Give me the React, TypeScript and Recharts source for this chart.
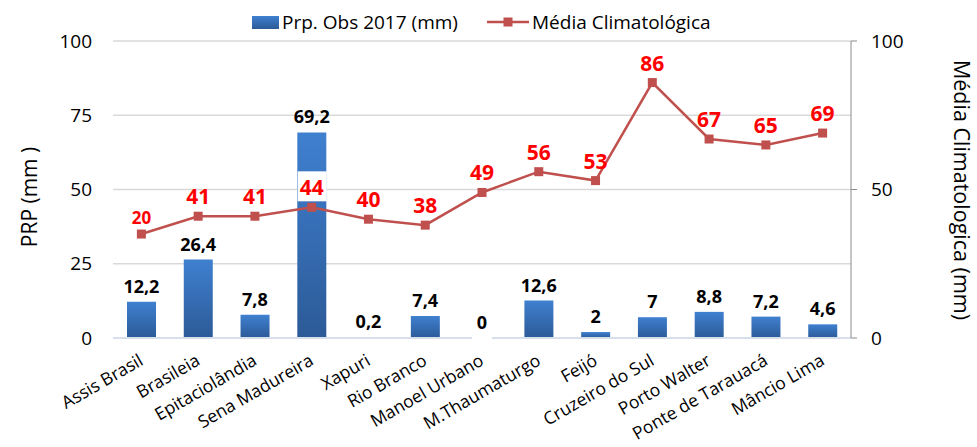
import React from 'react';
import { ComposedChart, Bar, Line, XAxis, YAxis, CartesianGrid, LabelList } from 'recharts';

const stations = [
  'Assis Brasil', 'Brasileia', 'Epitaciolândia', 'Sena Madureira', 'Xapuri', 'Rio Branco',
  'Manoel Urbano', 'M.Thaumaturgo', 'Feijó', 'Cruzeiro do Sul', 'Porto Walter',
  'Ponte de Tarauacá', 'Mâncio Lima',
];
const obs2017 = [12.2, 26.4, 7.8, 69.2, 0.2, 7.4, 0, 12.6, 2, 7, 8.8, 7.2, 4.6];
const climatology = [35, 41, 41, 44, 40, 38, 49, 56, 53, 86, 67, 65, 69];
const climLabels = ['20', '41', '41', '44', '40', '38', '49', '56', '53', '86', '67', '65', '69'];
const leftTicks = [0, 25, 50, 75, 100];
const rightTicks = [0, 50, 100];

const data = stations.map((name, i) => ({
  name,
  obs: obs2017[i],
  clim: climatology[i],
}));

const FONT = '"Open Sans", "Noto Sans", sans-serif';

const XTick = (props: any) => {
  const { x, y, payload } = props;
  const ax = x + 3;
  const ay = y + 26;
  return (
    <text x={ax} y={ay} transform={`rotate(-30 ${ax} ${ay})`} textAnchor="end" fontSize={17.5} fill="#000" fontFamily={FONT}>
      {payload.value}
    </text>
  );
};

const BarLabel = (props: any) => {
  const { x, y, index } = props;
  if (x == null || y == null) return null;
  const value = obs2017[index];
  const txt = String(value).replace('.', ',');
  return (
    <g>
      {value === 0 && <rect x={x - 10} y={y - 25} width={20} height={27} fill="#fff" />}
      <text x={x} y={y - 9} textAnchor="middle" fontSize={18} fontWeight="bold" fill="#000" fontFamily={FONT}>
        {txt}
      </text>
    </g>
  );
};

const LineLabel = (props: any) => {
  const { x, y, index } = props;
  const txt = climLabels[index];
  const small = index === 0;
  return (
    <g>
      {index === 3 && <rect x={x - 14} y={y - 36} width={29} height={30} fill="#fff" />}
      <text
        x={x}
        y={y - (small ? 10 : 12)}
        textAnchor="middle"
        fontSize={small ? 17 : 21}
        fontWeight="bold"
        fill="#ff0000"
        fontFamily={FONT}
      >
        {txt}
      </text>
    </g>
  );
};

const SquareDot = (props: any) => {
  const { cx, cy } = props;
  if (cx == null || cy == null) return null;
  return <rect x={cx - 4.5} y={cy - 4.5} width={9} height={9} fill="#c0504d" />;
};

export default function App() {
  return (
    <div style={{ position: 'absolute', left: 0, top: 0, width: 977, height: 447, background: '#fff' }}>
      <ComposedChart
        width={977}
        height={447}
        data={data}
        margin={{ top: 41, right: 0, left: 0, bottom: 0 }}
        style={{ fontFamily: FONT }}
      >
        <defs>
          <linearGradient id="barGrad" x1="0" y1="0" x2="0" y2="1">
            <stop offset="0%" stopColor="#3f80d0" />
            <stop offset="100%" stopColor="#2c5a97" />
          </linearGradient>
        </defs>
        <CartesianGrid yAxisId="left" vertical={false} stroke="#d9d9d9" strokeWidth={1.3} />
        <XAxis
          dataKey="name"
          interval={0}
          height={109}
          tickSize={0}
          tickMargin={0}
          axisLine={{ stroke: '#d6dfeb', strokeWidth: 2 }}
          tickLine={false}
          tick={<XTick />}
        />
        <YAxis
          yAxisId="left"
          orientation="left"
          width={113}
          domain={[0, 100]}
          ticks={leftTicks}
          axisLine={false}
          tickLine={false}
          tickSize={0}
          tickMargin={21}
          tick={{ fontSize: 19, fill: '#000', fontFamily: FONT }}
          label={(p: any) => (
            <text x={29} y={197} transform="rotate(-90 29 197)" textAnchor="middle" dominantBaseline="central" fontSize={21} fill="#000" fontFamily={FONT}>
              PRP (mm )
            </text>
          )}
        />
        <YAxis
          yAxisId="right"
          orientation="right"
          width={126}
          domain={[0, 100]}
          ticks={rightTicks}
          axisLine={{ stroke: '#8c8c8c', strokeWidth: 1 }}
          tickLine={{ stroke: '#8c8c8c' }}
          tickSize={6}
          tickMargin={14}
          tick={{ fontSize: 19, fill: '#000', fontFamily: FONT }}
          label={(p: any) => (
            <text x={962} y={190} transform="rotate(90 962 190)" textAnchor="middle" dominantBaseline="central" fontSize={21.5} fill="#000" fontFamily={FONT}>
              Média Climatologica (mm)
            </text>
          )}
        />
        <Bar yAxisId="left" dataKey="obs" barSize={29} fill="url(#barGrad)" isAnimationActive={false} />
        <Line
          yAxisId="left"
          dataKey="obs"
          stroke="none"
          dot={false}
          activeDot={false}
          legendType="none"
          isAnimationActive={false}
        >
          <LabelList dataKey="obs" content={<BarLabel />} />
        </Line>
        <Line
          yAxisId="right"
          dataKey="clim"
          stroke="#c0504d"
          strokeWidth={2.5}
          dot={<SquareDot />}
          activeDot={false}
          isAnimationActive={false}
        >
          <LabelList dataKey="clim" content={<LineLabel />} />
        </Line>
      </ComposedChart>
      <svg width={27} height={13} style={{ position: 'absolute', left: 252, top: 16 }}>
        <defs>
          <linearGradient id="legGrad" x1="0" y1="0" x2="0" y2="1">
            <stop offset="0%" stopColor="#3f80d0" />
            <stop offset="100%" stopColor="#2c5a97" />
          </linearGradient>
        </defs>
        <rect x={0} y={0} width={27} height={13} fill="url(#legGrad)" />
      </svg>
      <span style={{ position: 'absolute', left: 282, top: 8, fontFamily: FONT, fontSize: 19, lineHeight: '28px', whiteSpace: 'nowrap', color: '#000' }}>
        Prp. Obs 2017 (mm)
      </span>
      <svg width={42} height={14} style={{ position: 'absolute', left: 487, top: 15 }}>
        <line x1={0} y1={7} x2={42} y2={7} stroke="#c0504d" strokeWidth={2.5} />
        <rect x={16.5} y={2.5} width={9} height={9} fill="#c0504d" />
      </svg>
      <span style={{ position: 'absolute', left: 532, top: 8, fontFamily: FONT, fontSize: 19, lineHeight: '28px', whiteSpace: 'nowrap', color: '#000' }}>
        Média Climatológica
      </span>
    </div>
  );
}
